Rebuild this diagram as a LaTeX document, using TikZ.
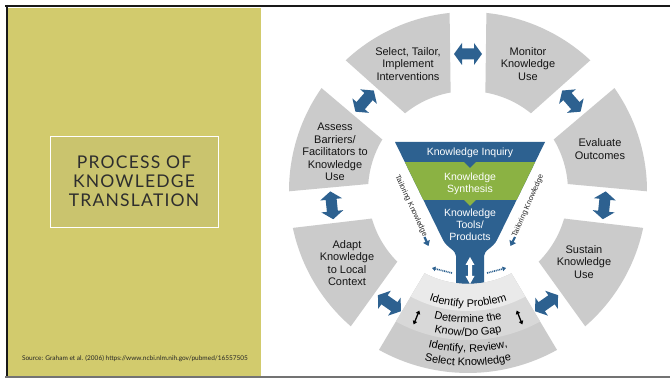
\documentclass[tikz,border=0pt]{standalone}
\usepackage{fontspec}
\setmainfont{Liberation Sans}
\newfontfamily\titlefont{Lato}
\usetikzlibrary{arrows.meta,decorations.text}
\definecolor{olivepanel}{HTML}{D2CB6D}
\definecolor{titlefill}{HTML}{CAC46E}
\definecolor{kblue}{HTML}{2D6190}
\definecolor{kgreen}{HTML}{8BB243}
\definecolor{seggray}{HTML}{CBCBCB}
\definecolor{bandlight}{HTML}{EAEAEA}
\definecolor{bandmid}{HTML}{D8D8D8}
\newcommand\ao{5.9}
\newcommand\ai{10}
\newcommand\segpath[4]{(#2-\ao:#3) arc[start angle=#2-\ao, end angle=#1+\ao, radius=#3] -- (#1+\ai:#4) arc[start angle=#1+\ai, end angle=#2-\ai, radius=#4] -- cycle}
\newcommand\fatarrow[1]{\fill[kblue, shift={(#1:137)}, rotate=#1] (0,14) -- (11,6) -- (5.5,6) -- (5.5,-6) -- (11,-6) -- (0,-14) -- (-11,-6) -- (-5.5,-6) -- (-5.5,6) -- (-11,6) -- cycle;}
\newcommand\arctext[2]{\path[decorate, decoration={text along path, text align=center, text={|\fontsize{11}{13}\selectfont|#2}}] (-140:#1) arc[start angle=-140, end angle=-40, radius=#1];}
\begin{document}
\begin{tikzpicture}[x=1pt,y=1pt,
  segtext/.style={font=\fontsize{11}{12.5}\selectfont, align=center, text=black!92, inner sep=0pt},
  funtext/.style={font=\fontsize{10.5}{12}\selectfont, align=center, text=white, inner sep=0pt},
  tailtext/.style={font=\fontsize{7.5}{8}\selectfont, text=black!85, inner sep=0pt}]
\useasboundingbox (0,0) rectangle (670,379);
\fill[white] (0,0) rectangle (670,379);
% left panel
\fill[olivepanel] (8,3) rectangle (261,371);
\draw[black!90, line width=2pt] (5,373) -- (670,373);
\draw[black!90, line width=2pt] (6.5,374) -- (6.5,2);
\draw[black!55, line width=1.2pt] (5,2) -- (670,2);
\node[draw=white, line width=1pt, fill=titlefill, minimum width=168pt, minimum height=91pt, inner sep=0pt] (titlebox) at (134,196.5) {};
\node[font=\titlefont\fontsize{17.5}{19}\selectfont\addfontfeature{LetterSpace=7}, text=black!82, align=center] (title) at (134,198) {PROCESS OF\\KNOWLEDGE\\TRANSLATION};
\node[font=\titlefont\fontsize{6.5}{7}\selectfont, text=black!85] (src) at (135,20) {Source: Graham et al. (2006) https://www.ncbi.nlm.nih.gov/pubmed/16557505};
% ring
\begin{scope}[shift={(468,188)}]
  \fill[seggray] \segpath{90}{139}{179}{100};
  \fill[seggray] \segpath{41}{90}{179}{100};
  \fill[seggray] \segpath{-6}{41}{179}{100};
  \fill[seggray] \segpath{-55}{-6}{179}{100};
  \fill[seggray] \segpath{-174}{-125}{179}{100};
  \fill[seggray] \segpath{139}{186}{179}{100};
  \fatarrow{90}
  \fatarrow{41}
  \fatarrow{-6}
  \fatarrow{-55}
  \fatarrow{-125}
  \fatarrow{186}
  \fatarrow{139}
\end{scope}
% funnel
\fill[kblue] (395,237) -- (545,237) -- (497,139) .. controls (493,131) and (484,129) .. (484,123) -- (484,89) -- (456,89) -- (456,123) .. controls (456,129) and (447,131) .. (443,139) -- cycle;
\begin{scope}
  \clip (395,237) -- (545,237) -- (497,139) -- (443,139) -- cycle;
  \fill[kgreen] (380,179) rectangle (560,217);
\end{scope}
\fill[kblue] (464,217) -- (476,217) -- (470,211) -- cycle;
\fill[kgreen] (464,179) -- (476,179) -- (470,173) -- cycle;
% bottom segment
\begin{scope}[shift={(468,189)}]
  \renewcommand\ai{7.5}
  \fill[seggray] \segpath{-125}{-55}{183}{94};
  \begin{scope}
    \clip \segpath{-125}{-55}{183}{94};
    \fill[bandmid] (0,0) circle[radius=150];
    \fill[bandlight] (0,0) circle[radius=121];
  \end{scope}
  \arctext{117}{Identify Problem}
  \arctext{133}{Determine the}
  \arctext{146}{Know/Do Gap}
  \arctext{162}{Identify, Review,}
  \arctext{176}{Select Knowledge}
  \coordinate (bl1) at (-112:130);
  \coordinate (bl2) at (-112:145);
  \coordinate (br1) at (-68:130);
  \coordinate (br2) at (-68:145);
  \draw[black, line width=1.3pt, {Triangle[length=3.5pt,width=4.5pt]}-{Triangle[length=3.5pt,width=4.5pt]}] (bl1) -- (bl2);
  \draw[black, line width=1.3pt, {Triangle[length=3.5pt,width=4.5pt]}-{Triangle[length=3.5pt,width=4.5pt]}] (br1) -- (br2);
\end{scope}
% white arrow in stem
\fill[white] (470,122) -- (474.5,114) -- (472,114) -- (472,103) -- (474.5,103) -- (470,95) -- (465.5,103) -- (468,103) -- (468,114) -- (465.5,114) -- cycle;
% tailoring
\node[tailtext, rotate=-65] (tailL) at (411,173) {Tailoring Knowledge};
\node[tailtext, rotate=66] (tailR) at (528,173) {Tailoring Knowledge};
\coordinate (tl1) at (424.5,142);
\coordinate (tl2) at (428.5,133);
\coordinate (tr1) at (515,142);
\coordinate (tr2) at (510.5,133);
\draw[kblue, line width=2.2pt, -{Triangle[length=5pt,width=7pt]}] (tl1) -- (tl2);
\draw[kblue, line width=2.2pt, -{Triangle[length=5pt,width=7pt]}] (tr1) -- (tr2);
\coordinate (dl1) at (452,106);
\coordinate (dl2) at (432,111);
\coordinate (dr1) at (487,106);
\coordinate (dr2) at (506,111);
\draw[kblue, line width=1.6pt, dash pattern=on 1pt off 0.8pt, -{Triangle[length=3.5pt,width=4.5pt]}] (dl1) -- (dl2);
\draw[kblue, line width=1.6pt, dash pattern=on 1pt off 0.8pt, -{Triangle[length=3.5pt,width=4.5pt]}] (dr1) -- (dr2);
% funnel texts
\node[funtext] (inq) at (470,226) {Knowledge Inquiry};
\node[funtext] (syn) at (470,195.5) {Knowledge\\Synthesis};
\node[funtext] (tools) at (470,154) {Knowledge\\Tools/\\Products};
% segment texts
\node[segtext] (select) at (408,315) {Select, Tailor,\\Implement\\Interventions};
\node[segtext] (monitor) at (528,315) {Monitor\\Knowledge\\Use};
\node[segtext] (assess) at (335,227) {Assess\\Barriers/\\Facilitators to\\Knowledge\\Use};
\node[segtext] (evaluate) at (600,230) {Evaluate\\Outcomes};
\node[segtext] (sustain) at (584,117) {Sustain\\Knowledge\\Use};
\node[segtext] (adapt) at (347,116) {Adapt\\Knowledge\\to Local\\Context};
\end{tikzpicture}
\end{document}
